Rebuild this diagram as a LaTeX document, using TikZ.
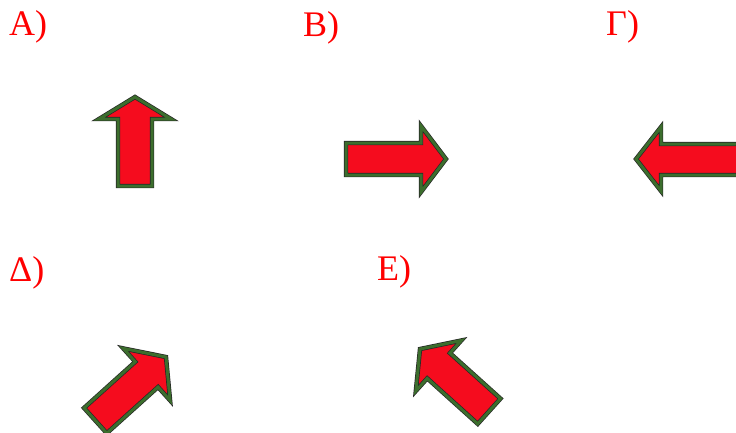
\documentclass[tikz,border=0pt]{standalone}
\usepackage{fontspec}
\setmainfont{Liberation Serif}
\usepackage{xcolor}

\definecolor{arrowred}{RGB}{245,12,30}
\definecolor{arrowgreen}{RGB}{60,110,45}

\begin{document}
\begin{tikzpicture}[x=1pt, y=-1pt,
        arrowbody/.style={fill=arrowred, draw=black!85, double=arrowgreen,
            double distance=3pt, line width=0.7pt, line join=miter},
        answer/.style={text=red, font=\fontsize{36}{40}\selectfont,
            anchor=base west, inner sep=0pt}]

            % Drawing area
            \clip (0, 0) rectangle (736, 432);

            % Answer labels, top row
            \node[answer] (labelA) at (9, 35) {Α)};
            \node[answer] (labelB) at (303, 36) {Β)};
            \node[answer] (labelC) at (606, 35) {Γ)};

            % Answer labels, bottom row
            \node[answer] (labelD) at (9, 281) {Δ)};
            \node[answer] (labelE) at (377, 280) {Ε)};

            % Arrow A (up)
            \draw[arrowbody] (118, 186) -- (118, 119) -- (99, 119) -- (135, 97)
                -- (171, 119) -- (152, 119) -- (152, 186) -- cycle;

            % Arrow B (right)
            \draw[arrowbody] (346, 143) -- (421, 143) -- (421, 126) -- (446, 159)
                -- (421, 192) -- (421, 175) -- (346, 175) -- cycle;

            % Arrow C (left, cut by the edge)
            \draw[arrowbody] (745, 144) -- (661, 144) -- (661, 127) -- (636, 159)
                -- (661, 191) -- (661, 175) -- (745, 175) -- cycle;

            % Arrow D (up right)
            \begin{scope}[shift={(166, 357)}, rotate=42]
                \draw[arrowbody] (0, 0) -- (-26, -35) -- (-26, -17) -- (-95, -17)
                    -- (-95, 17) -- (-26, 17) -- (-26, 35) -- cycle;
            \end{scope}

            % Arrow E (up left)
            \begin{scope}[shift={(420, 349)}, rotate=138]
                \draw[arrowbody] (0, 0) -- (-25, -34) -- (-25, -17) -- (-93, -17)
                    -- (-93, 17) -- (-25, 17) -- (-25, 34) -- cycle;
            \end{scope}

\end{tikzpicture}
\end{document}
